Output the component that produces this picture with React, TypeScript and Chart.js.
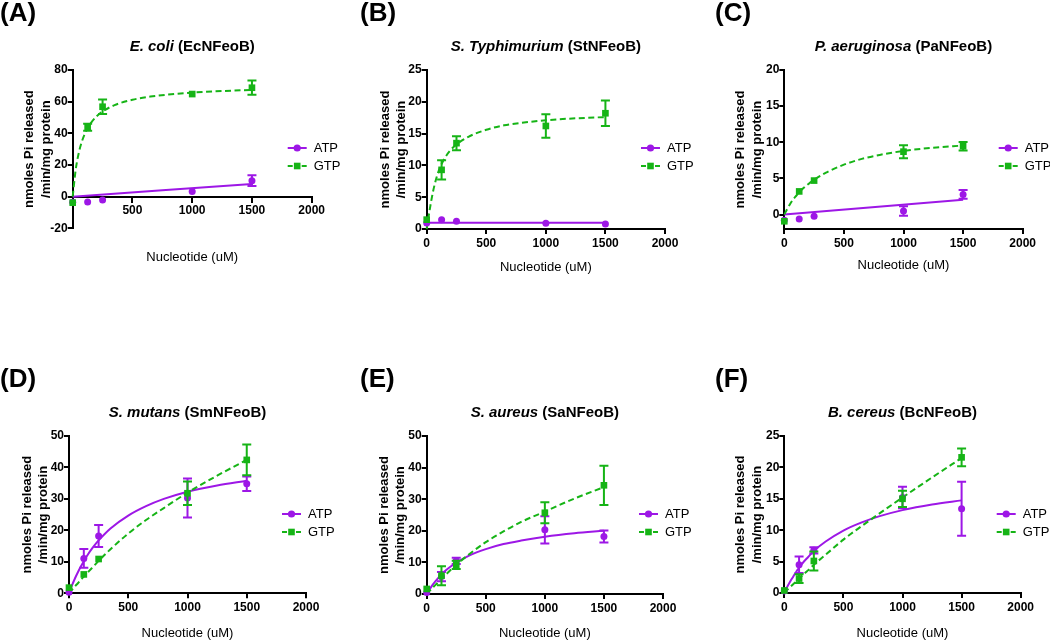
import React, { useEffect, useRef } from 'react';
import { Chart, registerables } from 'chart.js';

Chart.register(...registerables);

const FONT = '"Liberation Sans", Arial, sans-serif';
const PURPLE = '#9d17e6';
const GREEN = '#16b416';

// shared x values
const doses = [0, 125, 250, 1000, 1500];
const curveX = [0, 25, 50, 75, 100, 125, 150, 200, 250, 350, 500, 650, 800, 1000, 1250, 1500];
const lineX = [0, 1500];

// tick labels
const xTicksAll = [0, 500, 1000, 1500, 2000];
const xTicksNoZero = [500, 1000, 1500, 2000];
const yTicksA = [-20, 0, 20, 40, 60, 80];
const yTicksB = [0, 5, 10, 15, 20, 25];
const yTicksC = [0, 5, 10, 15, 20];
const yTicksD = [0, 10, 20, 30, 40, 50];
const yTicksE = [0, 10, 20, 30, 40, 50];
const yTicksF = [0, 5, 10, 15, 20, 25];

// (A) E. coli
const ecAtpMean = [-3.5, -3.4, -2.1, 3.2, 10.1];
const ecAtpSem = [0, 0, 0, 0, 3.4];
const ecGtpMean = [-3.8, 43.8, 56.8, 64.8, 68.8];
const ecGtpSem = [0, 2.2, 4.6, 0, 4.5];
const ecAtpFit = [0, 8.0];
const ecGtpFit = [0, 17, 27.3, 34.4, 39.4, 43.3, 46.3, 50.7, 53.8, 57.8, 61.2, 63.2, 64.5, 65.7, 66.7, 67.4];

// (B) S. Typhimurium
const stAtpMean = [0.95, 1.47, 1.2, 0.9, 0.8];
const stAtpSem = [0, 0, 0, 0, 0];
const stGtpMean = [1.47, 9.3, 13.5, 16.2, 18.2];
const stGtpSem = [0, 1.5, 1.1, 1.85, 2.0];
const stAtpFit = [1.0, 1.0];
const stGtpFit = [0, 3.0, 5.6, 7.6, 9.1, 10.2, 11.1, 12.4, 13.3, 14.5, 15.6, 16.3, 16.7, 17.1, 17.4, 17.6];

// (C) P. aeruginosa
const paAtpMean = [-0.8, -0.6, -0.23, 0.5, 2.78];
const paAtpSem = [0, 0, 0, 0.65, 0.6];
const paGtpMean = [-0.93, 3.2, 4.7, 8.7, 9.45];
const paGtpSem = [0, 0, 0, 0.9, 0.6];
const paAtpFit = [0, 2.05];
const paGtpFit = [0, 0.8, 1.5, 2.1, 2.6, 3.1, 3.5, 4.2, 4.8, 5.8, 6.9, 7.7, 8.25, 8.8, 9.25, 9.55];

// (D) S. mutans
const smAtpMean = [0.3, 11.1, 18.2, 30.3, 34.8];
const smAtpSem = [0, 3.0, 3.5, 6.2, 2.3];
const smGtpMean = [1.8, 6.0, 10.9, 31.8, 42.4];
const smGtpSem = [0, 0, 0, 3.7, 4.9];
const smAtpFit = [0, 2.5, 4.7, 6.7, 8.5, 10.2, 11.8, 14.5, 16.8, 20.6, 24.7, 27.7, 30.0, 32.3, 34.3, 35.8];
const smGtpFit = [0, 1.1, 2.2, 3.2, 4.3, 5.3, 6.3, 8.3, 10.3, 14.0, 19.0, 23.3, 27.1, 32.0, 37.4, 42.4];

// (E) S. aureus
const saAtpMean = [0.5, 5.5, 10.5, 20.3, 18.2];
const saAtpSem = [0, 1.5, 1.0, 4.3, 1.9];
const saGtpMean = [1.6, 5.8, 9.2, 25.7, 34.4];
const saGtpSem = [0, 3.0, 1.3, 3.3, 6.2];
const saAtpFit = [0, 1.5, 2.9, 4.1, 5.2, 6.2, 7.1, 8.6, 9.9, 12.0, 14.2, 15.8, 16.9, 18.1, 19.2, 20.0];
const saGtpFit = [0, 1.0, 2.0, 2.9, 3.9, 4.8, 5.7, 7.5, 9.2, 12.3, 16.4, 19.8, 22.8, 26.1, 30.2, 33.8];

// (F) B. cereus
const bcAtpMean = [0.3, 4.5, 6.8, 15.2, 13.4];
const bcAtpSem = [0, 1.3, 0.5, 1.7, 4.3];
const bcGtpMean = [0.4, 2.3, 5.1, 15.0, 21.6];
const bcGtpSem = [0, 0.7, 1.5, 1.3, 1.4];
const bcAtpFit = [0, 1.0, 1.85, 2.6, 3.35, 4.0, 4.65, 5.7, 6.7, 8.2, 9.95, 11.2, 12.2, 13.2, 14.1, 14.75];
const bcGtpFit = [0, 0.5, 0.95, 1.4, 1.85, 2.3, 2.75, 3.6, 4.5, 6.1, 8.5, 10.6, 12.6, 15.2, 18.4, 21.5];

const panels = [
  { label: '(A)', species: 'E. coli', strain: '(EcNFeoB)', yMin: -20, yMax: 80, yTicks: yTicksA, xTicks: xTicksNoZero, xAtZero: true,
    atp: [ecAtpMean, ecAtpSem, lineX, ecAtpFit], gtp: [ecGtpMean, ecGtpSem, curveX, ecGtpFit],
    col: 0, row: 0, L: 72.7, R: 311.7, B: 228.3, labelX: 0, yTitleX: 29.5, xTitleGap: 29 },
  { label: '(B)', species: 'S. Typhimurium', strain: '(StNFeoB)', yMin: 0, yMax: 25, yTicks: yTicksB, xTicks: xTicksAll, xAtZero: false,
    atp: [stAtpMean, stAtpSem, lineX, stAtpFit], gtp: [stGtpMean, stGtpSem, curveX, stGtpFit],
    col: 1, row: 0, L: 76.7, R: 315, B: 229, labelX: 10, yTitleX: 35, xTitleGap: 38 },
  { label: '(C)', species: 'P. aeruginosa', strain: '(PaNFeoB)', yMin: -2, yMax: 20, yTicks: yTicksC, xTicks: xTicksAll, xAtZero: false,
    atp: [paAtpMean, paAtpSem, lineX, paAtpFit], gtp: [paGtpMean, paGtpSem, curveX, paGtpFit],
    col: 2, row: 0, L: 84.3, R: 322.7, B: 229, labelX: 15, yTitleX: 40.5, xTitleGap: 36 },
  { label: '(D)', species: 'S. mutans', strain: '(SmNFeoB)', yMin: 0, yMax: 50, yTicks: yTicksD, xTicks: xTicksAll, xAtZero: false,
    atp: [smAtpMean, smAtpSem, curveX, smAtpFit], gtp: [smGtpMean, smGtpSem, curveX, smGtpFit],
    col: 0, row: 1, L: 69, R: 306, B: 227.3, labelX: 0, yTitleX: 27, xTitleGap: 40 },
  { label: '(E)', species: 'S. aureus', strain: '(SaNFeoB)', yMin: 0, yMax: 50, yTicks: yTicksE, xTicks: xTicksAll, xAtZero: false,
    atp: [saAtpMean, saAtpSem, curveX, saAtpFit], gtp: [saGtpMean, saGtpSem, curveX, saGtpFit],
    col: 1, row: 1, L: 76.7, R: 313, B: 228, labelX: 10, yTitleX: 34, xTitleGap: 39 },
  { label: '(F)', species: 'B. cereus', strain: '(BcNFeoB)', yMin: 0, yMax: 25, yTicks: yTicksF, xTicks: xTicksAll, xAtZero: false,
    atp: [bcAtpMean, bcAtpSem, curveX, bcAtpFit], gtp: [bcGtpMean, bcGtpSem, curveX, bcGtpFit],
    col: 2, row: 1, L: 84.3, R: 320.7, B: 227, labelX: 15, yTitleX: 40.5, xTitleGap: 40 },
];

const W = 350;
const H = 274;
const ROW_OFFSET = 366;
const Y_SCALE_W = 40;
const X_SCALE_H = 30;

const errorBarPlugin = {
  id: 'errorBars',
  beforeDatasetDraw(chart: any, args: any) {
    const ds = chart.data.datasets[args.index];
    if (!ds.sem) return;
    const ys = chart.scales.y;
    const ctx = chart.ctx;
    ctx.save();
    ctx.strokeStyle = ds.borderColor;
    ctx.lineWidth = 2;
    args.meta.data.forEach((pt: any, i: number) => {
      const s = ds.sem[i];
      if (!s) return;
      const d = ds.data[i];
      const top = ys.getPixelForValue(d.y + s);
      const bot = ys.getPixelForValue(d.y - s);
      const x = pt.x;
      ctx.beginPath();
      ctx.moveTo(x, top);
      ctx.lineTo(x, bot);
      ctx.moveTo(x - 4.5, top);
      ctx.lineTo(x + 4.5, top);
      ctx.moveTo(x - 4.5, bot);
      ctx.lineTo(x + 4.5, bot);
      ctx.stroke();
    });
    ctx.restore();
  },
};

function makeDecor(p: any) {
  return {
    id: 'decor',
    afterDraw(chart: any) {
      const ctx = chart.ctx;
      const ca = chart.chartArea;
      ctx.save();
      ctx.fillStyle = '#000';
      // panel label
      ctx.font = `bold 26px ${FONT}`;
      ctx.textAlign = 'left';
      ctx.textBaseline = 'alphabetic';
      ctx.fillText(p.label, p.labelX, 20.5);
      // title
      const cx = (ca.left + ca.right) / 2;
      const ty = ca.top - 23.3;
      const f1 = `italic bold 15px ${FONT}`;
      const f2 = `bold 15px ${FONT}`;
      ctx.font = f1;
      const w1 = ctx.measureText(p.species).width;
      ctx.font = f2;
      const s2 = ' ' + p.strain;
      const w2 = ctx.measureText(s2).width;
      const x0 = cx - (w1 + w2) / 2;
      ctx.textBaseline = 'middle';
      ctx.font = f1;
      ctx.fillText(p.species, x0, ty);
      ctx.font = f2;
      ctx.fillText(s2, x0 + w1, ty);
      // y title
      const cy = (ca.top + ca.bottom) / 2;
      ctx.font = `bold 13px ${FONT}`;
      ctx.textAlign = 'center';
      ctx.save();
      ctx.translate(p.yTitleX, cy);
      ctx.rotate(-Math.PI / 2);
      ctx.fillText('nmoles Pi released', 0, 0);
      ctx.restore();
      ctx.save();
      ctx.translate(p.yTitleX + 16.5, cy);
      ctx.rotate(-Math.PI / 2);
      ctx.fillText('/min/mg protein', 0, 0);
      ctx.restore();
      // x title
      ctx.font = `13px ${FONT}`;
      ctx.fillText('Nucleotide (uM)', cx, ca.bottom + p.xTitleGap);
      // legend
      const entries = [
        { name: 'ATP', color: PURPLE, dashed: false, y: ca.top + 78 },
        { name: 'GTP', color: GREEN, dashed: true, y: ca.top + 96 },
      ];
      entries.forEach((e) => {
        const x1 = ca.right - 24;
        const x2 = ca.right - 5;
        const mx = ca.right - 14.5;
        ctx.strokeStyle = e.color;
        ctx.fillStyle = e.color;
        ctx.lineWidth = 2;
        ctx.beginPath();
        if (e.dashed) {
          ctx.moveTo(x1, e.y);
          ctx.lineTo(x1 + 5, e.y);
          ctx.moveTo(x2 - 5, e.y);
          ctx.lineTo(x2, e.y);
        } else {
          ctx.moveTo(x1, e.y);
          ctx.lineTo(x2, e.y);
        }
        ctx.stroke();
        if (e.dashed) {
          ctx.fillRect(mx - 3.3, e.y - 3.3, 6.6, 6.6);
        } else {
          ctx.beginPath();
          ctx.arc(mx, e.y, 3.6, 0, Math.PI * 2);
          ctx.fill();
        }
        ctx.fillStyle = '#000';
        ctx.font = `13px ${FONT}`;
        ctx.textAlign = 'left';
        ctx.textBaseline = 'middle';
        ctx.fillText(e.name, ca.right + 2, e.y);
      });
      ctx.restore();
    },
  };
}

function toPoints(xs: number[], ys: number[]) {
  return xs.map((x, i) => ({ x, y: ys[i] }));
}

function Panel({ p }: { p: any }) {
  const ref = useRef<HTMLCanvasElement | null>(null);
  useEffect(() => {
    if (!ref.current) return;
    const [atpMean, atpSem, atpFx, atpFy] = p.atp;
    const [gtpMean, gtpSem, gtpFx, gtpFy] = p.gtp;
    const tickFont = { family: FONT, size: 12, weight: 'bold' as const };
    const chart = new Chart(ref.current, {
      type: 'line',
      data: {
        datasets: [
          {
            label: 'GTP', data: toPoints(doses, gtpMean), sem: gtpSem, showLine: false,
            pointStyle: 'rect', pointRadius: 4.7, pointBorderWidth: 0,
            backgroundColor: GREEN, borderColor: GREEN, pointBackgroundColor: GREEN, clip: false, order: 0,
          } as any,
          {
            label: 'ATP', data: toPoints(doses, atpMean), sem: atpSem, showLine: false,
            pointStyle: 'circle', pointRadius: 3.5, pointBorderWidth: 0,
            backgroundColor: PURPLE, borderColor: PURPLE, pointBackgroundColor: PURPLE, clip: false, order: 1,
          } as any,
          {
            label: 'GTP fit', data: toPoints(gtpFx, gtpFy), borderColor: GREEN, borderWidth: 2,
            borderDash: [6, 3.5], pointRadius: 0, fill: false, cubicInterpolationMode: 'monotone', clip: false, order: 2,
          } as any,
          {
            label: 'ATP fit', data: toPoints(atpFx, atpFy), borderColor: PURPLE, borderWidth: 2,
            pointRadius: 0, fill: false, cubicInterpolationMode: 'monotone', clip: false, order: 3,
          } as any,
        ],
      },
      options: {
        animation: false,
        responsive: false,
        maintainAspectRatio: false,
        events: [],
        layout: {
          padding: {
            left: p.L - Y_SCALE_W,
            right: W - p.R,
            top: 70,
            bottom: p.xAtZero ? H - p.B : H - p.B - X_SCALE_H,
          },
        },
        plugins: {
          legend: { display: false },
          tooltip: { enabled: false },
          title: { display: false },
        },
        scales: {
          x: {
            type: 'linear',
            min: 0,
            max: 2000,
            position: p.xAtZero ? ({ y: 0 } as any) : 'bottom',
            afterBuildTicks: (s: any) => { s.ticks = p.xTicks.map((v: number) => ({ value: v })); },
            afterFit: (s: any) => { s.height = X_SCALE_H; },
            ticks: { font: tickFont, color: '#000', padding: 2, maxRotation: 0, autoSkip: false, callback: (v: any) => String(v) },
            grid: { drawOnChartArea: false, drawTicks: true, tickLength: 5, color: '#000', lineWidth: 2 },
            border: { display: true, color: '#000', width: 2 },
          },
          y: {
            type: 'linear',
            min: p.yMin,
            max: p.yMax,
            afterBuildTicks: (s: any) => { s.ticks = p.yTicks.map((v: number) => ({ value: v })); },
            afterFit: (s: any) => { s.width = Y_SCALE_W; },
            ticks: { font: tickFont, color: '#000', padding: 0, autoSkip: false, callback: (v: any) => String(v) },
            grid: { drawOnChartArea: false, drawTicks: true, tickLength: 5, color: '#000', lineWidth: 2 },
            border: { display: true, color: '#000', width: 2 },
          },
        },
      } as any,
      plugins: [errorBarPlugin, makeDecor(p)],
    });
    return () => chart.destroy();
  }, [p]);
  return (
    <div style={{ position: 'absolute', left: p.col * W, top: p.row * ROW_OFFSET, width: W, height: H }}>
      <canvas ref={ref} width={W} height={H} style={{ display: 'block', width: W, height: H }} />
    </div>
  );
}

export default function App() {
  return (
    <div style={{ position: 'absolute', left: 0, top: 0, width: 1050, height: 640, overflow: 'hidden', background: '#fff' }}>
      {panels.map((p) => (
        <Panel key={p.label} p={p} />
      ))}
    </div>
  );
}
